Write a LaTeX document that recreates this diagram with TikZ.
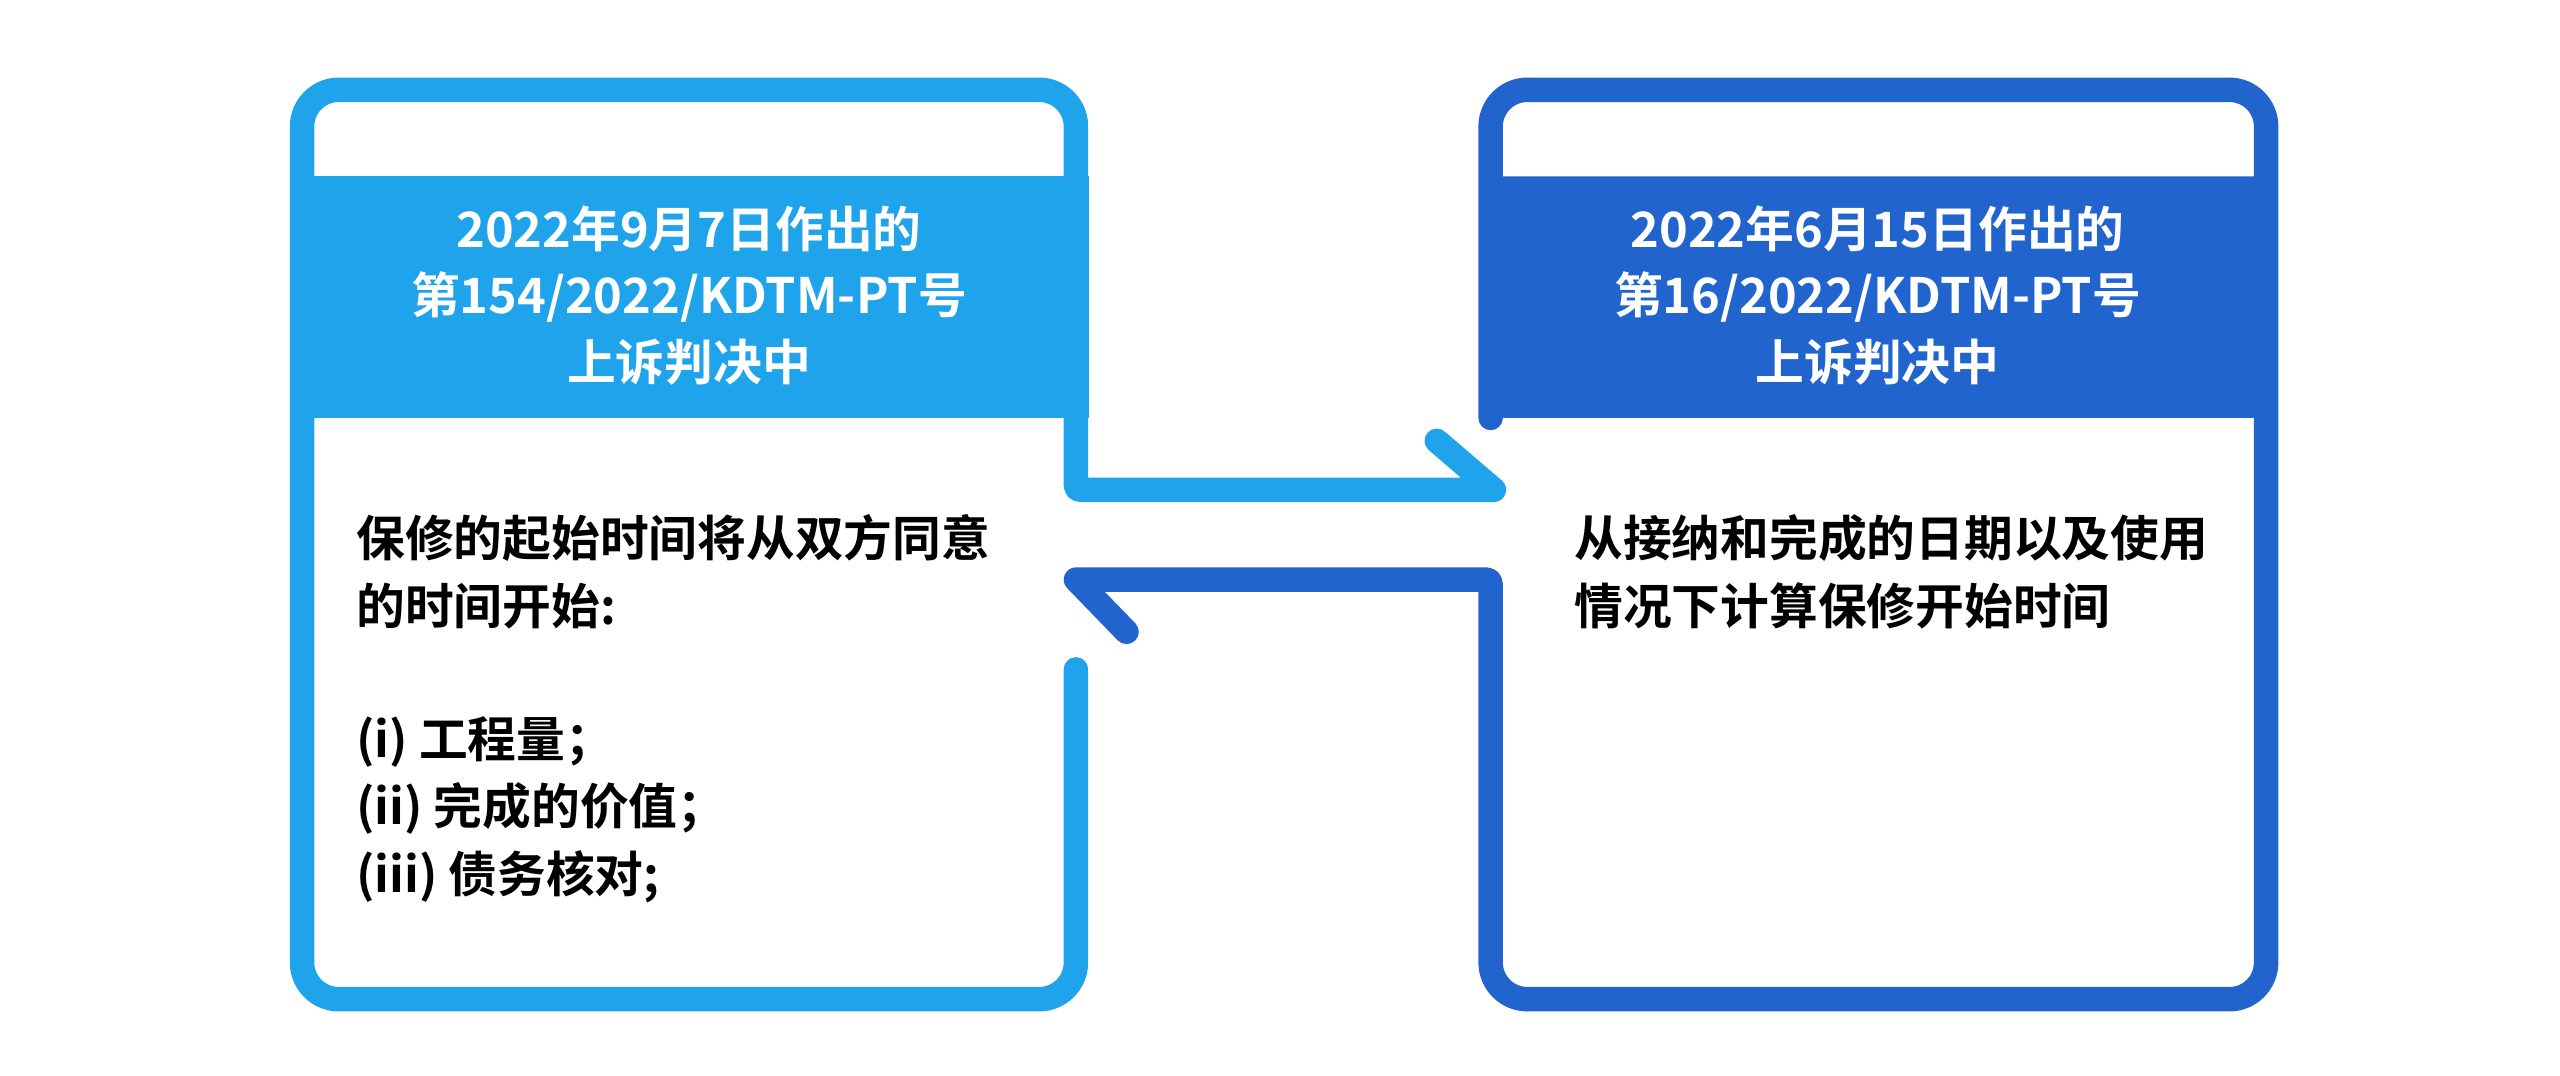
\documentclass[tikz,border=0pt]{standalone}
\usepackage{fontspec}
\newfontfamily\cjkb{Noto Sans CJK SC Bold}
\definecolor{lb}{HTML}{1FA3EA}
\definecolor{db}{HTML}{2264CE}
\begin{document}
\begin{tikzpicture}[x=0.02cm,y=-0.02cm,
  frame/.style={line width=0.3cm,line cap=round,line join=round},
  head/.style={white,font=\cjkb\fontsize{17}{23.3}\selectfont,align=center},
  body/.style={black,font=\cjkb\fontsize{17}{23.5}\selectfont,align=left,anchor=north west}]
\useasboundingbox (0,0) rectangle (1568,659);
% header bands
\fill[lb] (178,108) rectangle (667,256);
\fill[db] (1395,108) -- (906,108) [rounded corners=0.3cm] -- (906,256) -- (1395,256) [sharp corners] -- cycle;
% frames
\draw[frame,lb] (880,270) -- (915,300) [rounded corners=0.05cm] -- (659,300) [rounded corners=0.45cm] -- (659,55) -- (185,55) -- (185,612) -- (659,612) [sharp corners] -- (659,410);
\draw[frame,db] (690,387) -- (659,355) [rounded corners=0.05cm] -- (913,355) [rounded corners=0.45cm] -- (913,612) -- (1388,612) -- (1388,55) -- (913,55) [sharp corners] -- (913,256);
% texts
\node[head] (h1) at (422,181) {2022年9月7日作出的\\第154/2022/KDTM-PT号\\上诉判决中};
\node[head] (h2) at (1150,181) {2022年6月15日作出的\\第16/2022/KDTM-PT号\\上诉判决中};
\node[body] (b1) at (212,309) {保修的起始时间将从双方同意\\的时间开始:\\[23pt](i) 工程量；\\(ii) 完成的价值；\\(iii) 债务核对;};
\node[body] (b2) at (958,309) {从接纳和完成的日期以及使用\\情况下计算保修开始时间};
\end{tikzpicture}
\end{document}
